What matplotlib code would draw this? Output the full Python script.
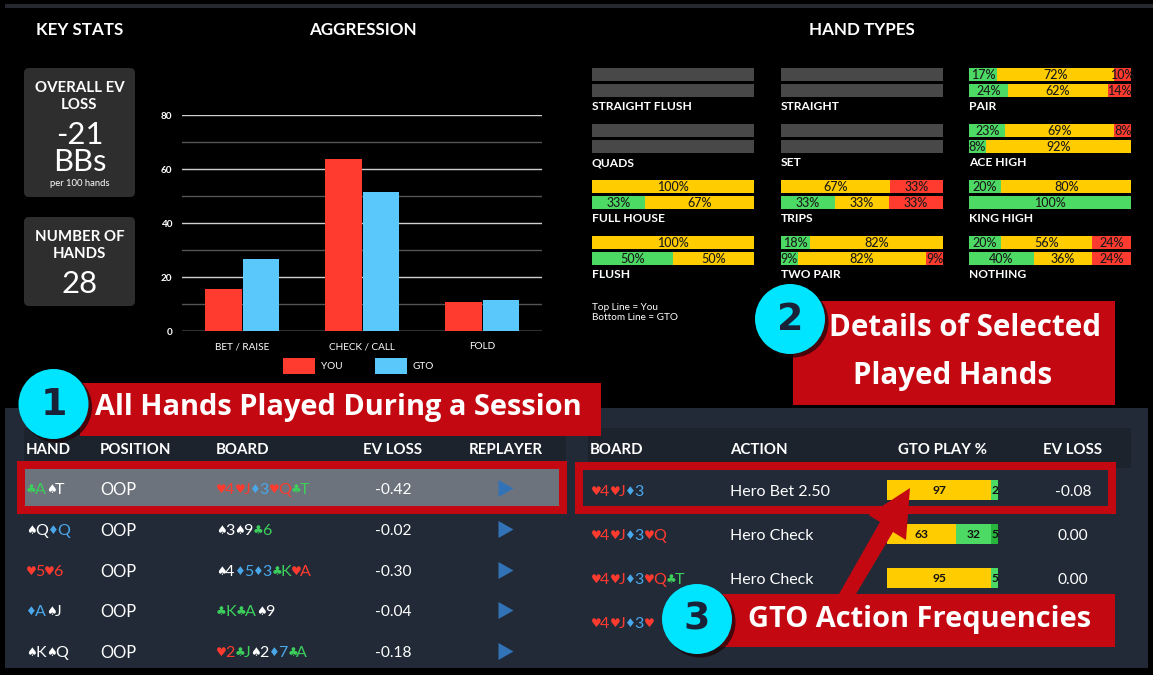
import matplotlib
matplotlib.use("Agg")
import matplotlib.pyplot as plt
from matplotlib.patches import Rectangle, FancyBboxPatch, Circle, Polygon

W, H = 1153, 675
NARROW = ['Lato', 'Roboto', 'DejaVu Sans']
BANNER = ['Open Sans', 'DejaVu Sans']
SUIT = ['DejaVu Sans']

# ---------- data ----------
agg_categories = ['BET / RAISE', 'CHECK / CALL', 'FOLD']
agg_you = [15.7, 63.8, 10.9]
agg_gto = [26.8, 51.6, 11.6]
agg_ticks = [0, 20, 40, 60, 80]

hand_names = ['STRAIGHT FLUSH', 'QUADS', 'FULL HOUSE', 'FLUSH',
              'STRAIGHT', 'SET', 'TRIPS', 'TWO PAIR',
              'PAIR', 'ACE HIGH', 'KING HIGH', 'NOTHING']
# each row: good (green) / ok (yellow) / bad (red)
hand_you = [[], [], [0, 100, 0], [0, 100, 0],
            [], [], [0, 67, 33], [18, 82, 0],
            [17, 72, 10], [23, 69, 8], [20, 80, 0], [20, 56, 24]]
hand_gto = [[], [], [33, 67, 0], [50, 50, 0],
            [], [], [33, 33, 33], [9, 82, 9],
            [24, 62, 14], [8, 92, 0], [100, 0, 0], [40, 36, 24]]

left_headers = ['HAND', 'POSITION', 'BOARD', 'EV LOSS', 'REPLAYER']
left_hands = ['♣A♠T', '♠Q♦Q', '♥5♥6', '♦A♠J', '♠K♠Q']
left_positions = ['OOP', 'OOP', 'OOP', 'OOP', 'OOP']
left_boards = ['♥4♥J♦3♥Q♣T', '♠3♠9♣6', '♠4♦5♦3♣K♥A', '♣K♣A♠9', '♥2♣J♠2♦7♣A']
left_ev = ['-0.42', '-0.02', '-0.30', '-0.04', '-0.18']

right_headers = ['BOARD', 'ACTION', 'GTO PLAY %', 'EV LOSS']
right_boards = ['♥4♥J♦3', '♥4♥J♦3♥Q', '♥4♥J♦3♥Q♣T', '♥4♥J♦3♥']
right_actions = ['Hero Bet 2.50', 'Hero Check', 'Hero Check']
right_freqs = [[97, 2], [63, 32, 5], [95, 5]]
right_ev = ['-0.08', '0.00', '0.00']

# ---------- style ----------
RED, BLUE = '#ff3b30', '#5ac8fa'
SEG = ['#4cd964', '#ffcc00', '#ff3b30']
ACT = ['#ffcc00', '#4cd964', '#28b53e']
SUIT_COL = {'♥': '#ff3b30', '♦': '#4aa8ea', '♣': '#3ccf5c', '♠': '#ffffff'}
CRIM = '#c40812'
PANEL, STRIP = '#212a36', '#1c232d'


def pt(px):
    return px * 0.72


fig = plt.figure(figsize=(W / 100, H / 100), dpi=100, facecolor='black')


def axes_px(x0, y0, x1, y1, z):
    a = fig.add_axes([x0 / W, 1 - y1 / H, (x1 - x0) / W, (y1 - y0) / H], zorder=z)
    a.patch.set_alpha(0)
    return a


def page(z):
    a = fig.add_axes([0, 0, 1, 1], zorder=z)
    a.set_xlim(0, W)
    a.set_ylim(H, 0)
    a.axis('off')
    a.patch.set_alpha(0)
    return a


bg = page(0)
top = page(10)

# ---------- background ----------
bg.add_patch(Rectangle((5, 4), W - 5, 4, color='#25282e', lw=0))
bg.add_patch(Rectangle((5, 408), 1143, 260, color=PANEL, lw=0))
bg.add_patch(Rectangle((24, 428), 542, 34, color=STRIP, lw=0))
bg.add_patch(Rectangle((588, 428), 543, 40, color=STRIP, lw=0))
for label, x in zip(['KEY STATS', 'AGGRESSION', 'HAND TYPES'], [79.5, 363, 862]):
    bg.text(x, 30, label, color='white', ha='center', va='center', family=NARROW,
            weight='bold', fontsize=pt(17))

# key stats
for y0, y1 in [(68, 197), (217, 306)]:
    bg.add_patch(FancyBboxPatch((28, y0 + 4), 103, y1 - y0 - 8, boxstyle='round,pad=4,rounding_size=5',
                                fc='#2e2e2e', ec='none'))
for y, s in [(88, 'OVERALL EV'), (105, 'LOSS'), (237, 'NUMBER OF'), (254, 'HANDS')]:
    bg.text(79.5, y, s, color='white', ha='center', va='center', family=NARROW,
            weight='bold', fontsize=pt(15))
for y, s, px in [(135, '-21', 31), (162, 'BBs', 31), (284, '28', 31)]:
    bg.text(79.5, y, s, color='white', ha='center', va='center', family=NARROW, fontsize=pt(px))
bg.text(79.5, 183.5, 'per 100 hands', color='white', ha='center', va='center',
        family=NARROW, fontsize=pt(9.5))

# ---------- aggression chart ----------
ax = axes_px(182, 115.3, 542, 331.3, 2)
ax.set_xlim(-0.5, 2.5)
ax.set_ylim(0, 80)
for s in ax.spines.values():
    s.set_visible(False)
ax.set_yticks(agg_ticks)
ax.set_yticks([10, 30, 50, 70], minor=True)
ax.grid(axis='y', which='major', color='#cfcfcf', lw=1)
ax.grid(axis='y', which='minor', color='#555555', lw=1)
ax.set_axisbelow(True)
ax.axhline(0, color='#555555', lw=1, zorder=1)
ax.tick_params(axis='both', which='both', length=0)
ax.tick_params(axis='y', pad=7, labelcolor='white', labelsize=pt(10))
ax.tick_params(axis='x', pad=8, labelcolor='white', labelsize=pt(10))
for t in ax.get_yticklabels():
    t.set_family(NARROW)
    t.set_weight('bold')
pos = list(range(len(agg_categories)))
b1 = ax.bar([p - 0.157 for p in pos], agg_you, width=0.308, color=RED, label='YOU', zorder=3)
b2 = ax.bar([p + 0.157 for p in pos], agg_gto, width=0.30, color=BLUE, label='GTO', zorder=3)
ax.set_xticks(pos, agg_categories, family=NARROW)
fs = pt(10)
ax.legend(handles=[b1, b2], ncol=2, frameon=False, loc='center', bbox_to_anchor=(0.491, -0.16),
          prop={'family': NARROW, 'size': fs}, labelcolor='white', handlelength=3.2, handleheight=2.1,
          handletextpad=0.6, columnspacing=3.2, borderpad=0, borderaxespad=0)

# ---------- hand types ----------
col_x = [(592, 754), (781, 943), (969, 1131)]
row_y = [68, 124, 180, 236]
for i, name in enumerate(hand_names):
    x0, x1 = col_x[i // 4]
    y0 = row_y[i % 4]
    a = axes_px(x0, y0, x1, y0 + 29, 2)
    a.set_xlim(0, 100)
    a.set_ylim(1 + 13 / 32, -13 / 32)
    a.axis('off')
    for r, vals in enumerate([hand_you[i], hand_gto[i]]):
        if not vals:
            a.barh(r, 100, height=13 / 16, color='#484848', lw=0)
            continue
        nz = [(v, c) for v, c in zip(vals, SEG) if v > 0]
        shown = [max(v, 10.5) for v, _ in nz]
        tot = sum(shown)
        left = 0
        for (v, c), s in zip(nz, shown):
            w = s * 100 / tot
            a.barh(r, w, left=left, height=13 / 16, color=c, lw=0)
            a.text(left + w / 2, r + 0.06, f'{v}%', ha='center', va='center', color='#1a1a1a',
                   family=NARROW, fontsize=pt(12.5), weight='medium')
            left += w
    bg.text(x0, y0 + 38.5, name, color='white', ha='left', va='center',
            family=NARROW, weight='bold', fontsize=pt(12))
bg.text(592, 307, 'Top Line = You', color='white', va='center', family=NARROW, fontsize=pt(10))
bg.text(592, 317, 'Bottom Line = GTO', color='white', va='center', family=NARROW, fontsize=pt(10))

# ---------- tables ----------
fig.canvas.draw()
rend = fig.canvas.get_renderer()


def cards(a, x, y, s, size=16):
    for i in range(0, len(s), 2):
        suit = s[i]
        col = SUIT_COL[suit]
        t = a.text(x, y + 0.5, suit, color=col, va='center', ha='left', family=SUIT, fontsize=pt(size - 4))
        x += t.get_window_extent(rend).width * 0.85
        if i + 1 < len(s):
            t = a.text(x, y + 1, s[i + 1], color=col, va='center', ha='left', family=NARROW, fontsize=pt(size))
            x += t.get_window_extent(rend).width


# left table highlight
bg.add_patch(Rectangle((21, 465), 542, 45, fc='#6c737c', ec=CRIM, lw=8 * 0.72))
# right table highlight
bg.add_patch(Rectangle((579, 466), 533, 44, fc='none', ec=CRIM, lw=8 * 0.72))

for x, s, ha in zip([26, 100, 216, 393, 506], left_headers, ['left', 'left', 'left', 'center', 'center']):
    bg.text(x, 450, s, color='white', ha=ha, va='center', family=NARROW, weight='bold', fontsize=pt(15))
for x, s, ha in zip([590, 730, 942, 1073], right_headers, ['left', 'left', 'center', 'center']):
    bg.text(x, 450, s, color='white', ha=ha, va='center', family=NARROW, weight='bold', fontsize=pt(15))

left_y = [489, 530, 571, 611, 652]
for y, h, p, b, e in zip(left_y, left_hands, left_positions, left_boards, left_ev):
    cards(bg, 26, y, h)
    bg.text(100, y + 1, p, color='white', va='center', family=NARROW, fontsize=pt(16.5))
    cards(bg, 216, y, b)
    bg.text(393, y + 1, e, color='white', va='center', ha='center', family=NARROW, fontsize=pt(15.5))
    bg.add_patch(Polygon([(498.5, y - 9), (498.5, y + 8), (513.5, y - 0.5)], color='#3273b8', lw=0))

right_y = [491, 535, 579, 623]
for y, b in zip(right_y, right_boards):
    cards(bg, 591, y, b)
for y, act, freqs, e in zip(right_y, right_actions, right_freqs, right_ev):
    bg.text(730, y + 1, act, color='white', va='center', family=NARROW, fontsize=pt(16))
    bg.text(1073, y + 1, e, color='white', va='center', ha='center', family=NARROW, fontsize=pt(15.5))
    a = axes_px(887, y - 11, 998, y + 9, 2)
    a.set_xlim(0, 100)
    a.set_ylim(-0.5, 0.5)
    a.axis('off')
    shown = [max(v, 6.3) for v in freqs]
    tot = sum(shown)
    left = 0
    for v, s, c in zip(freqs, shown, ACT):
        w = s * 100 / tot
        a.barh(0, w, left=left, height=1, color=c, lw=0)
        a.text(left + w / 2, 0, str(v), ha='center', va='center', color='#111111',
               family=NARROW, weight='bold', fontsize=pt(12))
        left += w

# ---------- call-outs ----------
top.add_patch(Polygon([(839, 594), (856, 594), (893, 532), (906, 540), (910, 488),
                       (868.5, 515), (880, 522)], color=CRIM, lw=0))
top.add_patch(Polygon([(80, 383), (601, 383), (601, 436), (80, 436)], color=CRIM, lw=0))
top.add_patch(Polygon([(793, 301), (1115, 301), (1115, 405), (793, 405)], color=CRIM, lw=0))
top.add_patch(Polygon([(720, 594), (1115, 594), (1115, 647), (720, 647)], color=CRIM, lw=0))
for cx, cy, n in [(53.5, 404, '1'), (790, 319, '2'), (697, 619, '3')]:
    top.add_patch(Circle((cx + 3, cy + 3), 35.5, color='#1a0508', alpha=0.75, lw=0))
    top.add_patch(Circle((cx, cy), 35, color='#00e5ff', lw=0))
    top.text(cx, cy + 1, n, ha='center', va='center', color='#1a2238', family=['DejaVu Sans'],
             weight='bold', fontsize=pt(38))
for x, y, s, px in [(338.5, 407, 'All Hands Played During a Session', 29),
                    (965, 328, 'Details of Selected', 29.5),
                    (953, 376, 'Played Hands', 29.5),
                    (920, 619, 'GTO Action Frequencies', 29)]:
    top.text(x, y, s, ha='center', va='center', color='white', family=BANNER, weight='bold', fontsize=pt(px))

fig.savefig('out.png', dpi=100, facecolor='black')
